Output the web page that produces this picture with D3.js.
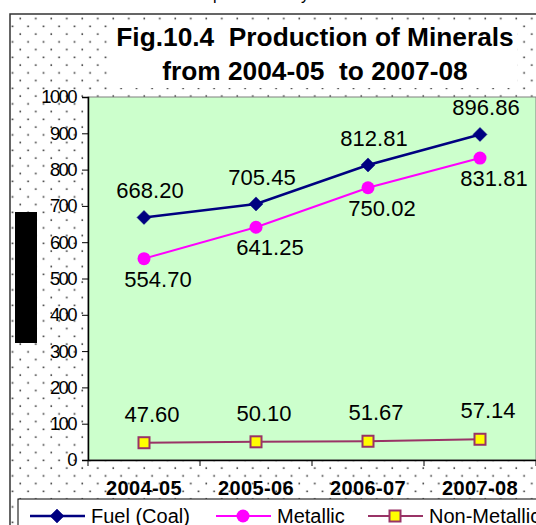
<!DOCTYPE html>
<html><head><meta charset="utf-8">
<script src="https://cdn.jsdelivr.net/npm/d3@7"></script>
<style>
html,body{margin:0;padding:0;background:#fff;overflow:hidden}
svg{display:block;font-family:Arial,"Liberation Sans",sans-serif}
</style></head>
<body>
<script>
const categories = ["2004-05","2005-06","2006-07","2007-08"];
const fuelCoal = [668.20, 705.45, 812.81, 896.86];
const metallic = [554.70, 641.25, 750.02, 831.81];
const nonMetallic = [47.60, 50.10, 51.67, 57.14];
const yTicks = [0,100,200,300,400,500,600,700,800,900,1000];
const seriesNames = ["Fuel (Coal)","Metallic","Non-Metallic"];
const titleLines = ["Fig.10.4  Production of Minerals","from 2004-05  to 2007-08"];

(function(){
const W = 536, H = 525;
const svg = d3.select("body").append("svg").attr("width",W).attr("height",H);
const defs = svg.append("defs");
const pat = defs.append("pattern").attr("id","dots").attr("patternUnits","userSpaceOnUse")
  .attr("width",15.5).attr("height",15.5).attr("x",12.3).attr("y",10.6);
pat.append("rect").attr("width",15.5).attr("height",15.5).attr("fill","#fff");
[[7.2,7.2],[-0.5,-0.5],[15,-0.5],[-0.5,15],[15,15]].forEach(p=>{
  pat.append("rect").attr("x",p[0]).attr("y",p[1]).attr("width",1.6).attr("height",1.6).attr("fill","#333");
});

// cut-off text at top
svg.append("text").attr("x",213).attr("y",-0.5).attr("font-size",16).attr("fill","#000").text("production by");

// chart area
svg.append("rect").attr("x",10).attr("y",14).attr("width",W).attr("height",H)
  .attr("fill","url(#dots)").attr("stroke","#333").attr("stroke-width",1.5);

// title box
svg.append("rect").attr("x",111).attr("y",21).attr("width",406).attr("height",67).attr("fill","#fff");
svg.selectAll("text.title").data(titleLines).join("text").attr("class","title")
  .attr("x",315).attr("y",(d,i)=>46+i*34).attr("text-anchor","middle")
  .style("white-space","pre")
  .attr("font-size",26.3).attr("font-weight","bold").attr("fill","#000").text(d=>d);

// plot
const pL=88, pR=536, pT=97, pB=460;
const x = d3.scaleBand().domain(categories).range([pL,pR]);
const y = d3.scaleLinear().domain([0,1000]).range([pB,pT]);

svg.append("rect").attr("x",pL).attr("y",pT).attr("width",pR-pL).attr("height",pB-pT)
  .attr("fill","#CCFFCC").attr("stroke","#808080").attr("stroke-width",1);

const yAxis = svg.append("g").attr("transform",`translate(${pL},0)`)
  .call(d3.axisLeft(y).tickValues(yTicks).tickSize(6).tickPadding(3).tickFormat(d3.format("d")));
yAxis.select(".domain").attr("stroke","#000").attr("stroke-width",1.5);
yAxis.selectAll(".tick line").attr("stroke","#000");
yAxis.selectAll(".tick text").attr("font-size",18.5).attr("letter-spacing",-1.6)
  .attr("fill","#000").attr("font-family","Arial, 'Liberation Sans', sans-serif").attr("dx",-3);

const xAxis = svg.append("g").attr("transform",`translate(0,${pB})`)
  .call(d3.axisBottom(x).tickSize(0).tickPadding(0));
xAxis.select(".domain").attr("stroke","#000").attr("stroke-width",1.5);
xAxis.selectAll(".tick text").attr("font-size",20).attr("font-weight","bold").attr("fill","#000")
  .attr("font-family","Arial, 'Liberation Sans', sans-serif").attr("dy",0).attr("y",35)
  .attr("letter-spacing",0.4);
const bounds = categories.map(c=>x(c)).concat([pR]);
svg.selectAll("line.xt").data(bounds).join("line").attr("class","xt")
  .attr("x1",d=>d).attr("x2",d=>d).attr("y1",pB).attr("y2",pB+6)
  .attr("stroke","#000").attr("stroke-width",1);

const cx = c => x(c)+x.bandwidth()/2;
const series = [
  {name:seriesNames[0], vals:fuelCoal, color:"#000080", marker:"diamond", lw:2.5, dy:-19, dx:6},
  {name:seriesNames[1], vals:metallic, color:"#FF00FF", marker:"circle", lw:2, dy:28, dx:14},
  {name:seriesNames[2], vals:nonMetallic, color:"#993366", marker:"square", lw:2, dy:-21, dx:8}
];
const line = d3.line().x((d,i)=>cx(categories[i])).y(d=>y(d));

function drawMarker(g, type, color){
  if(type==="diamond"){
    g.append("path").attr("d","M0,-7L7,0L0,7L-7,0Z").attr("fill",color).attr("stroke",color).attr("stroke-width",0.5);
  } else if(type==="circle"){
    g.append("circle").attr("r",6.5).attr("fill",color);
  } else {
    g.append("rect").attr("x",-5.5).attr("y",-5.5).attr("width",11).attr("height",11)
      .attr("fill","#FFFF00").attr("stroke",color).attr("stroke-width",2);
  }
}

series.forEach(s=>{
  svg.append("path").datum(s.vals).attr("d",line).attr("fill","none")
    .attr("stroke",s.color).attr("stroke-width",s.lw);
  s.vals.forEach((v,i)=>{
    const g = svg.append("g").attr("transform",`translate(${cx(categories[i])},${y(v)})`);
    drawMarker(g, s.marker, s.color);
  });
  svg.selectAll(null).data(s.vals).join("text")
    .attr("x",(d,i)=>cx(categories[i])+s.dx).attr("y",d=>y(d)+s.dy)
    .attr("text-anchor","middle").attr("font-size",22).attr("fill","#000")
    .text(d=>d3.format(".2f")(d));
});

// black rectangle
svg.append("rect").attr("x",15).attr("y",212).attr("width",22).attr("height",131).attr("fill","#000");

// legend
svg.append("rect").attr("x",18).attr("y",499).attr("width",560).attr("height",50)
  .attr("fill","#fff").attr("stroke","#000").attr("stroke-width",1);
const legX = [30,216,368];
series.forEach((s,i)=>{
  const g = svg.append("g").attr("transform",`translate(${legX[i]},516)`);
  g.append("line").attr("x1",0).attr("x2",55).attr("stroke",s.color).attr("stroke-width",s.lw);
  const m = g.append("g").attr("transform","translate(27,0)");
  drawMarker(m, s.marker, s.color);
  g.append("text").attr("x",61).attr("y",7).attr("font-size",20).attr("fill","#000").text(s.name);
});
})();
</script>
</body></html>
